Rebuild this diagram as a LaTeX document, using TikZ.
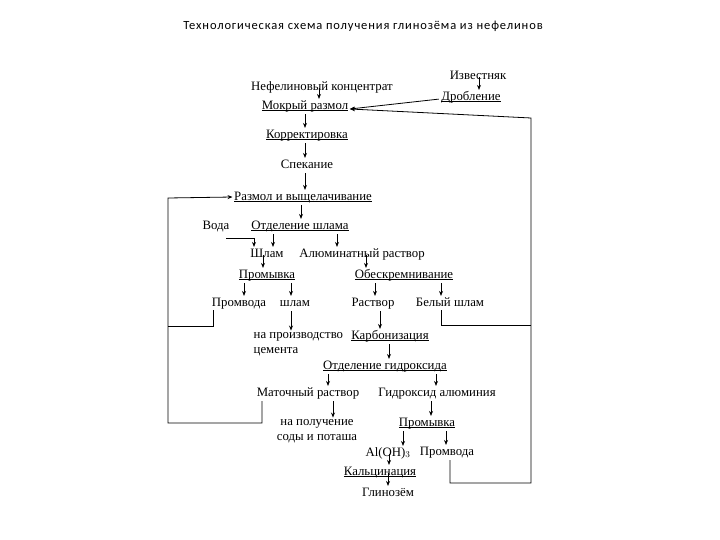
\documentclass[tikz,border=0pt]{standalone}
\usepackage{fontspec}
\setmainfont{Liberation Serif}
\newfontfamily\titlefont[LetterSpace=7]{Carlito}
\usetikzlibrary{arrows.meta}
\newcommand\undl[1]{\setbox0=\hbox{#1}\rlap{\rule[-1.8pt]{\wd0}{0.6pt}}\box0}
\begin{document}
\begin{tikzpicture}[x=1pt,y=-1pt,
  lab/.style={font=\fontsize{12.8}{15}\selectfont, inner sep=1.5pt, text height=8.5pt, text depth=2.2pt},
  lab2/.style={font=\fontsize{12.8}{15}\selectfont, inner sep=1.5pt},
  ln/.style={line width=0.8pt},
  arr/.style={ln, -{Stealth[length=5pt,width=4pt]}, shorten <=1pt}]
\useasboundingbox (0,0) rectangle (720,540);
\node[font=\titlefont\fontsize{12.5}{14}\selectfont, inner sep=0pt] (title) at (363,26) {Технологическая схема получения глинозёма из нефелинов};
% nodes
\node[lab] (nk) at (322,87) {Нефелиновый концентрат};
\node[lab] (izv) at (478,76) {Известняк};
\node[lab] (drob) at (471,97) {\undl{Дробление}};
\node[lab] (mr) at (305,106) {\undl{Мокрый размол}};
\node[lab] (kor) at (307,135) {\undl{Корректировка}};
\node[lab] (spek) at (307,165) {Спекание};
\node[lab] (rv) at (303,197) {\undl{Размол и выщелачивание}};
\node[lab] (osh) at (300,226) {\undl{Отделение шлама}};
\node[lab] (voda) at (216,226) {Вода};
\node[lab] (shlam) at (267,254) {Шлам};
\node[lab] (ar) at (362,254) {Алюминатный раствор};
\node[lab] (prom1) at (267,275) {\undl{Промывка}};
\node[lab] (obes) at (404,275) {\undl{Обескремнивание}};
\node[lab] (pv1) at (239,303) {Промвода};
\node[lab] (shl2) at (295,303) {шлам};
\node[lab] (rastv) at (373,303) {Раствор};
\node[lab] (bsh) at (450,303) {Белый шлам};
\node[lab2, align=left, anchor=west] (cem) at (252,344) {на производство\\цемента};
\node[lab] (karb) at (390,336) {\undl{Карбонизация}};
\node[lab] (og) at (385,366) {\undl{Отделение гидроксида}};
\node[lab] (mat) at (308,393) {Маточный раствор};
\node[lab] (ga) at (437,393) {Гидроксид алюминия};
\node[lab2, align=center] (soda) at (317,431) {на получение\\соды и поташа};
\node[lab] (prom2) at (427,423) {\undl{Промывка}};
\node[lab] (aloh) at (388,453) {Al(OH)$_3$};
\node[lab] (pv2) at (447,452) {Промвода};
\node[lab] (kalc) at (380,472) {\undl{Кальцинация}};
\node[lab] (gl) at (388,493) {Глинозём};
% coordinates of loops
\coordinate (rt) at (531,118);
\coordinate (rb) at (531,483);
\coordinate (lt) at (168,198);
\coordinate (lb) at (168,423);
\coordinate (vc) at (225,238);
% vertical arrows
\draw[arr] (nk.center -| 319,0) -- (mr.north -| 319,0);
\draw[arr] (izv.center -| 479,0) -- (drob.north -| 479,0);
\draw[arr] (mr.south -| 305,0) -- (kor.north -| 305,0);
\draw[arr] (kor.south -| 305,0) -- (spek.north -| 305,0);
\draw[arr] (spek.south -| 305,0) -- (rv.north -| 305,0);
\draw[arr] (rv.south -| 301,0) -- (osh.north -| 301,0);
\draw[arr] (osh.south -| 273,0) -- (shlam.north -| 273,0);
\draw[arr] (osh.south -| 337,0) -- (ar.north -| 337,0);
\draw[arr] (shlam.center -| 263,0) -- (prom1.north -| 263,0);
\draw[arr] (ar.center -| 366,0) -- (obes.north -| 366,0);
\draw[arr] (prom1.south -| 244,0) -- (pv1.north -| 244,0);
\draw[arr] (prom1.south -| 291,0) -- (shl2.north -| 291,0);
\draw[arr] (obes.south -| 375,0) -- (rastv.north -| 375,0);
\draw[arr] (obes.south -| 441,0) -- (bsh.north -| 441,0);
\draw[arr] (shl2.south -| 291,0) -- (cem.north -| 291,0);
\draw[arr] (rastv.south -| 380,0) -- (karb.north -| 380,0);
\draw[arr] (karb.south -| 389,0) -- (og.north -| 389,0);
\draw[arr] (og.south -| 328,0) -- (mat.north -| 328,0);
\draw[arr] (og.south -| 436,0) -- (ga.north -| 436,0);
\draw[arr] (mat.south -| 333,0) -- (soda.north -| 333,0);
\draw[arr] (ga.south -| 431,0) -- (prom2.north -| 431,0);
\draw[arr] (prom2.south -| 403,0) -- (aloh.north -| 403,0);
\draw[arr] (prom2.south -| 446,0) -- (pv2.north -| 446,0);
\draw[arr] (aloh.center -| 389,0) -- (kalc.north -| 389,0);
\draw[arr] (kalc.center -| 388,0) -- (gl.north -| 388,0);
% side connectors
\draw[arr] ([yshift=-2pt]drob.west) -- ([yshift=-3pt]mr.east);
\draw[arr] (pv2.south -| 450,0) |- (rb) -- (rt) -- ([yshift=-3pt]mr.east);
\draw[ln] (bsh.south -| 441,0) |- (531,325);
\draw[arr] (mat.south -| 262,0) |- (lb) -- (lt) -- (rv.west);
\draw[ln] (pv1.south -| 213,0) |- (168,326);
\draw[arr] (vc) -| (shlam.north -| 254,0);
\end{tikzpicture}
\end{document}
